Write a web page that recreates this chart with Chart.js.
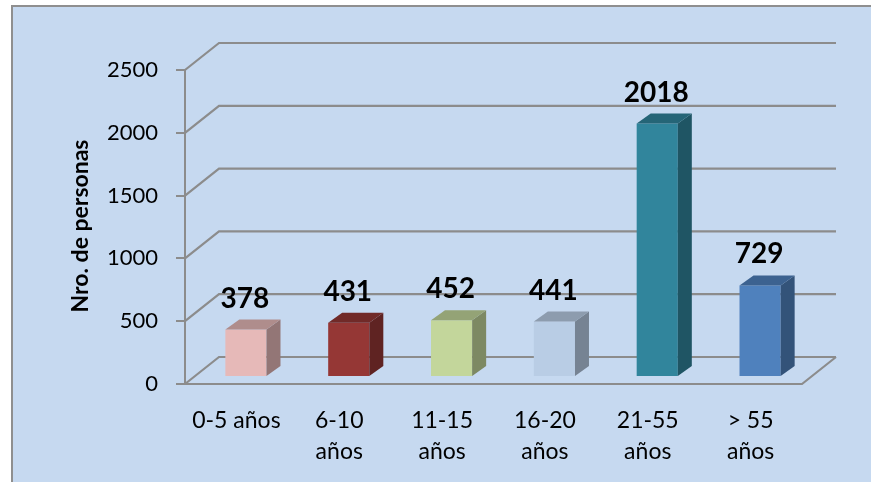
<!DOCTYPE html>
<html><head><meta charset="utf-8">
<script src="https://cdn.jsdelivr.net/npm/chart.js@4"></script>
<style>html,body{margin:0;padding:0;background:#fff;overflow:hidden}canvas{display:block}</style>
</head><body><canvas id="c" width="871" height="482"></canvas>
<script>
const categories = [['0-5 años'], ['6-10', 'años'], ['11-15', 'años'], ['16-20', 'años'], ['21-55', 'años'], ['> 55', 'años']];
const values = [378, 431, 452, 441, 2018, 729];
const yMin = 0, yMax = 2500, yStep = 500;
const yAxisTitle = 'Nro. de personas';
const barColors = ['#e6b9b8', '#953735', '#c3d69b', '#b9cde5', '#31859c', '#4f81bd'];

const WALL_DX = 34, WALL_DY = 27;
const BAR_OX = 9.5, BAR_OY = 7;
const BAR_DX = 14, BAR_DY = 10;
const GRID = '#8c8c8c';
const FONT = 'Lato, Carlito, Calibri, sans-serif';

function shade(hex, f) {
  const n = parseInt(hex.slice(1), 16);
  const r = Math.round(((n >> 16) & 255) * f), g = Math.round(((n >> 8) & 255) * f), b = Math.round((n & 255) * f);
  return `rgb(${r},${g},${b})`;
}

const threeD = {
  id: 'threeD',
  beforeDraw(chart) {
    const ctx = chart.ctx;
    ctx.save();
    ctx.fillStyle = '#c6d9f0';
    ctx.fillRect(12, 6, 900, 500);
    ctx.strokeStyle = '#8f8f8f';
    ctx.lineWidth = 2;
    ctx.strokeRect(12, 6, 900, 500);
    ctx.restore();
  },
  beforeDatasetsDraw(chart) {
    const ctx = chart.ctx, a = chart.chartArea, ys = chart.scales.y;
    ctx.save();
    ctx.strokeStyle = GRID;
    ctx.lineWidth = 2.2;
    for (let v = yMin; v <= yMax; v += yStep) {
      const y = ys.getPixelForValue(v);
      ctx.beginPath();
      ctx.moveTo(a.left, y);
      ctx.lineTo(a.left + WALL_DX, y - WALL_DY);
      ctx.lineTo(a.right + WALL_DX, y - WALL_DY);
      ctx.stroke();
    }
    const yb = ys.getPixelForValue(yMin);
    ctx.beginPath();
    ctx.moveTo(a.left, yb);
    ctx.lineTo(a.right, yb);
    ctx.lineTo(a.right + WALL_DX, yb - WALL_DY);
    ctx.stroke();
    ctx.restore();
    ctx.save();
    ctx.translate(BAR_OX, -BAR_OY);
  },
  afterDatasetsDraw(chart) {
    const ctx = chart.ctx;
    ctx.restore();
    const meta = chart.getDatasetMeta(0);
    ctx.save();
    meta.data.forEach((el, i) => {
      const p = el.getProps(['x', 'y', 'base', 'width'], true);
      const l = p.x - p.width / 2 + BAR_OX, r = p.x + p.width / 2 + BAR_OX;
      const t = p.y - BAR_OY, b = p.base - BAR_OY;
      const c = barColors[i];
      ctx.fillStyle = shade(c, 0.64);
      ctx.beginPath();
      ctx.moveTo(r, t); ctx.lineTo(r + BAR_DX, t - BAR_DY); ctx.lineTo(r + BAR_DX, b - BAR_DY); ctx.lineTo(r, b);
      ctx.closePath(); ctx.fill();
      ctx.fillStyle = shade(c, 0.76);
      ctx.beginPath();
      ctx.moveTo(l, t); ctx.lineTo(l + BAR_DX, t - BAR_DY); ctx.lineTo(r + BAR_DX, t - BAR_DY); ctx.lineTo(r, t);
      ctx.closePath(); ctx.fill();
      ctx.fillStyle = '#000';
      ctx.font = `bold 28px ${FONT}`;
      ctx.textAlign = 'center';
      ctx.textBaseline = 'alphabetic';
      ctx.fillText(String(values[i]), (l + r) / 2 - 1, p.y - 29);
    });
    ctx.restore();
  },
  afterDraw(chart) {
    const ctx = chart.ctx;
    ctx.save();
    ctx.translate(81, 226);
    ctx.rotate(-Math.PI / 2);
    ctx.font = `bold 23px ${FONT}`;
    ctx.fillStyle = '#000';
    ctx.textAlign = 'center';
    ctx.textBaseline = 'middle';
    ctx.fillText(yAxisTitle, 0, 0);
    ctx.restore();
  }
};

new Chart(document.getElementById('c'), {
  type: 'bar',
  data: {
    labels: categories,
    datasets: [{ data: values, backgroundColor: barColors, borderWidth: 0, barPercentage: 0.4, categoryPercentage: 1, clip: false }]
  },
  options: {
    responsive: false,
    devicePixelRatio: 1,
    animation: false,
    layout: { padding: { left: 0, top: 70, right: 69, bottom: 0 } },
    plugins: { legend: { display: false }, tooltip: { enabled: false } },
    scales: {
      y: {
        min: yMin, max: yMax,
        afterFit(s) { s.width = 185; },
        ticks: { stepSize: yStep, padding: 18, color: '#000', font: { family: FONT, size: 22 }, callback: v => String(v) },
        grid: { drawOnChartArea: false, drawTicks: true, tickLength: 9, color: GRID, lineWidth: 2 },
        border: { display: true, color: GRID, width: 2 }
      },
      x: {
        afterFit(s) { s.height = 98; },
        ticks: { padding: 13, color: '#000', maxRotation: 0, autoSkip: false, font: { family: FONT, size: 23, lineHeight: 1.35 } },
        grid: { display: false },
        border: { display: false }
      }
    }
  },
  plugins: [threeD]
});
</script>
</body></html>
